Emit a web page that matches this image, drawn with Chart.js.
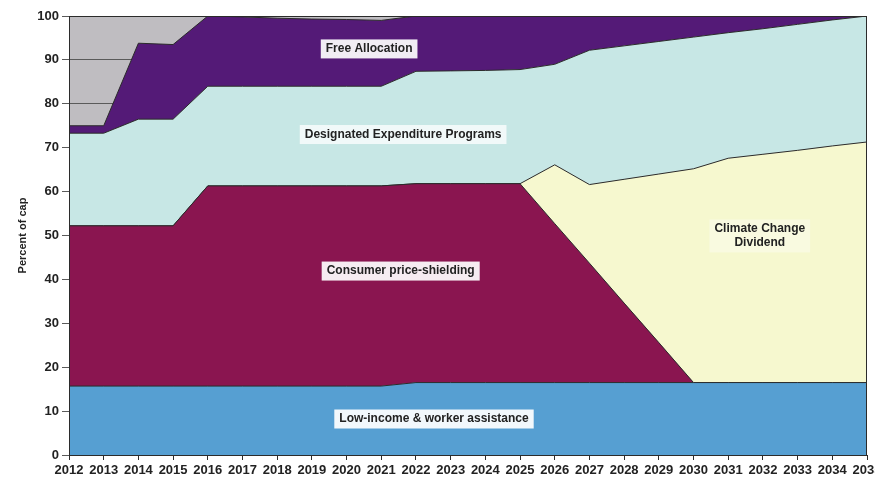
<!DOCTYPE html>
<html>
<head>
<meta charset="utf-8">
<script src="https://cdn.jsdelivr.net/npm/chart.js@4/dist/chart.umd.min.js"></script>
<style>
  html, body { margin: 0; padding: 0; background: #fff; overflow: hidden; }
  #wrap { width: 875px; height: 485px; overflow: hidden; }
</style>
</head>
<body>
<div id="wrap"><canvas id="chart" width="890" height="485"></canvas></div>
<script>
// Chart data (percent of cap, each program's share)
const years = ['2012','2013','2014','2015','2016','2017','2018','2019','2020','2021','2022','2023',
               '2024','2025','2026','2027','2028','2029','2030','2031','2032','2033','2034','2035'];

const lowIncome   = [15.7,15.7,15.7,15.7,15.7,15.7,15.7,15.7,15.7,15.7,16.5,16.5,
                     16.5,16.5,16.5,16.5,16.5,16.5,16.5,16.5,16.5,16.5,16.5,16.5];
const priceShield = [36.5,36.5,36.5,36.5,45.6,45.6,45.6,45.6,45.6,45.6,45.3,45.3,
                     45.3,45.3,36.2,27.2,18.1,9.1,0,0,0,0,0,0];
const dividend    = [0,0,0,0,0,0,0,0,0,0,0,0,
                     0,0,13.4,17.9,28.2,38.4,48.7,51.1,52.0,52.9,53.9,54.8];
const designated  = [21.1,21.1,24.3,24.3,22.7,22.7,22.7,22.7,22.7,22.7,25.6,25.7,
                     25.8,26.0,22.9,30.6,30.4,30.2,30.0,28.6,28.6,28.7,28.7,28.7];
const freeAlloc   = [1.7,1.7,17.3,17.0,16.0,15.8,15.5,15.3,15.2,15.0,12.6,12.5,
                     12.4,12.2,11.0,7.8,6.8,5.8,4.8,3.8,2.9,1.9,0.9,0];

const yTicks = [0,10,20,30,40,50,60,70,80,90,100];

// In-chart labels (x = year index, y = percent)
const notes = [
    { text: ['Free Allocation'], x: 8.65, y: 92.5, bg: 'rgba(255,255,255,0.92)' },
    { text: ['Designated Expenditure Programs'], x: 9.63, y: 73.0, bg: 'rgba(255,255,255,0.75)' },
    { text: ['Consumer price-shielding'], x: 9.56, y: 41.9, bg: 'rgba(255,255,255,0.92)' },
    { text: ['Climate Change', 'Dividend'], x: 19.91, y: 49.9, bg: 'rgba(255,255,255,0.35)' },
    { text: ['Low-income & worker assistance'], x: 10.52, y: 8.2, bg: 'rgba(255,255,255,0.92)' }
];

const FONT = '"Liberation Sans", Arial, sans-serif';
const EDGE = '#2b2b2b';

function series(label, data, color, fill) {
    return {
        label: label,
        data: data,
        backgroundColor: color,
        borderColor: EDGE,
        borderWidth: 1,
        pointRadius: 0,
        tension: 0,
        fill: fill
    };
}

// gray plot background, frame and text boxes
const plotDecor = {
    id: 'plotDecor',
    beforeDraw(chart) {
        const a = chart.chartArea, ctx = chart.ctx;
        ctx.save();
        ctx.fillStyle = '#bfbdc1';
        ctx.fillRect(a.left, a.top, a.right - a.left, a.bottom - a.top);
        ctx.restore();
    },
    afterDatasetsDraw(chart) {
        const a = chart.chartArea, ctx = chart.ctx;
        const xs = chart.scales.x, ys = chart.scales.y;
        ctx.save();
        ctx.strokeStyle = EDGE;
        ctx.lineWidth = 1;
        ctx.strokeRect(a.left + 0.5, a.top + 0.5, a.right - a.left - 1, a.bottom - a.top);

        ctx.font = 'bold 12px ' + FONT;
        ctx.textAlign = 'center';
        ctx.textBaseline = 'middle';
        notes.forEach(n => {
            const cx = xs.getPixelForValue(n.x);
            const cy = ys.getPixelForValue(n.y);
            const lh = 14;
            const w = Math.max(...n.text.map(t => ctx.measureText(t).width)) + 10;
            const h = n.text.length * lh + 5;
            ctx.fillStyle = n.bg;
            ctx.fillRect(cx - w / 2, cy - h / 2, w, h);
            ctx.fillStyle = '#222';
            n.text.forEach((t, i) => {
                ctx.fillText(t, cx, cy - (n.text.length - 1) * lh / 2 + i * lh);
            });
        });
        ctx.restore();
    }
};

new Chart(document.getElementById('chart').getContext('2d'), {
    type: 'line',
    data: {
        labels: years,
        datasets: [
            series('Low-income & worker assistance', lowIncome, '#569fd2', 'origin'),
            series('Consumer price-shielding', priceShield, '#8a1550', '-1'),
            series('Climate Change Dividend', dividend, '#f6f8cf', '-1'),
            series('Designated Expenditure Programs', designated, '#c7e7e5', '-1'),
            series('Free Allocation', freeAlloc, '#541a77', '-1')
        ]
    },
    options: {
        responsive: false,
        animation: false,
        layout: { padding: { top: 16, right: 23, left: 0, bottom: 0 } },
        plugins: {
            legend: { display: false },
            tooltip: { enabled: false }
        },
        scales: {
            x: {
                offset: false,
                grid: { drawOnChartArea: false, drawTicks: true, tickLength: 5, color: EDGE },
                border: { display: false },
                ticks: {
                    autoSkip: false,
                    maxRotation: 0,
                    padding: 3,
                    color: '#222',
                    font: { family: FONT, size: 13, weight: 'bold' }
                },
                afterFit(s) { s.height = 30; }
            },
            y: {
                stacked: true,
                min: 0,
                max: 100,
                afterBuildTicks(s) { s.ticks = yTicks.map(v => ({ value: v })); },
                grid: { color: '#5a5a5a', lineWidth: 1, drawTicks: true, tickLength: 7 },
                border: { display: false },
                ticks: {
                    padding: 3,
                    color: '#222',
                    font: { family: FONT, size: 13, weight: 'bold' }
                },
                title: {
                    display: true,
                    text: 'Percent of cap',
                    color: '#222',
                    font: { family: FONT, size: 11, weight: 'bold' },
                    padding: { top: 16, bottom: 0 }
                },
                afterFit(s) { s.width = 69; }
            }
        }
    },
    plugins: [plotDecor]
});
</script>
</body>
</html>
